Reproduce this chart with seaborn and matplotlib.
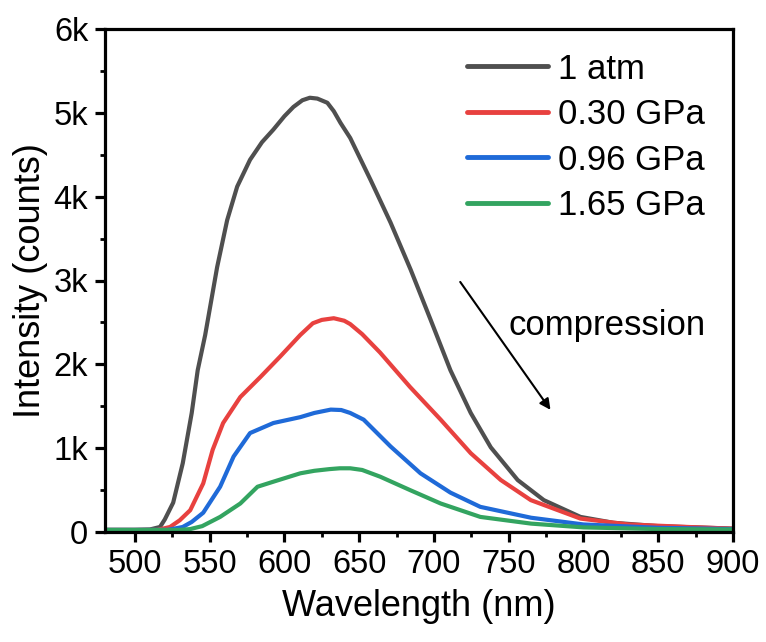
import numpy as np
import pandas as pd
import matplotlib
matplotlib.use("Agg")
import matplotlib.pyplot as plt
from matplotlib.ticker import MultipleLocator, FuncFormatter
import seaborn as sns

# ---- data ----
wl_1atm = [480, 500, 510, 516.8, 520, 525.6, 532, 538, 542, 547, 555, 561.7, 568.4, 577,
           585, 592.6, 600, 606, 612, 617, 622, 628.7, 633, 637.5, 644, 657.6, 671, 684.4,
           697.8, 711, 724.6, 738, 756, 773.5, 798, 820, 850, 900]
int_1atm = [25, 25, 30, 60, 150, 350, 820, 1420, 1930, 2350, 3160, 3720, 4120, 4440,
            4650, 4800, 4960, 5070, 5150, 5180, 5170, 5120, 5020, 4880, 4700, 4200, 3690,
            3130, 2530, 1930, 1420, 1010, 620, 380, 180, 110, 70, 40]

wl_030 = [480, 515, 523.5, 530, 537, 545.7, 552, 559, 570.5, 584, 597, 610.6, 619, 625,
          633, 640, 644, 652, 664, 684, 704.5, 724.6, 744.7, 764.8, 798, 830, 870, 900]
int_030 = [25, 25, 60, 140, 260, 580, 980, 1300, 1610, 1850, 2090, 2350, 2490, 2530,
           2550, 2520, 2480, 2360, 2140, 1730, 1340, 940, 620, 380, 160, 90, 60, 40]

wl_096 = [480, 522, 532, 538, 545.7, 557, 566, 577, 592.6, 610.6, 620, 631, 638, 644, 653,
          671, 691, 711, 731, 765, 800, 850, 900]
int_096 = [25, 25, 60, 120, 230, 540, 900, 1180, 1300, 1370, 1420, 1460, 1455, 1420, 1340,
           1020, 700, 470, 300, 170, 90, 50, 35]

wl_165 = [480, 530, 537, 545, 557, 570.5, 582, 592.6, 610.6, 620, 630, 637, 644, 652, 664,
          684, 704.5, 731, 765, 800, 850, 900]
int_165 = [25, 25, 35, 70, 180, 340, 540, 600, 700, 730, 750, 760, 760, 740, 660,
           500, 340, 180, 100, 55, 35, 30]

labels = ["1 atm", "0.30 GPa", "0.96 GPa", "1.65 GPa"]
colors = ["#4f4f4f", "#e8413f", "#1f6ad8", "#33a460"]

frames = []
for lab, w, i in zip(labels, [wl_1atm, wl_030, wl_096, wl_165],
                     [int_1atm, int_030, int_096, int_165]):
    frames.append(pd.DataFrame({"wl": w, "I": i, "p": lab}))
df = pd.concat(frames, ignore_index=True)

sns.set_style("white")
plt.rcParams["font.family"] = ["Liberation Sans", "DejaVu Sans"]
plt.rcParams["text.color"] = "black"
plt.rcParams["axes.labelcolor"] = "black"
plt.rcParams["xtick.color"] = "black"
plt.rcParams["ytick.color"] = "black"

fig = plt.figure(figsize=(7.66, 6.42), dpi=100)
ax = fig.add_axes([105 / 766, 1 - 532 / 642, 628 / 766, 503 / 642])

sns.lineplot(data=df, x="wl", y="I", hue="p", hue_order=labels,
             palette=dict(zip(labels, colors)), sort=False, estimator=None,
             linewidth=3, ax=ax, solid_joinstyle="round", solid_capstyle="round")

ax.set_xlim(480, 900)
ax.set_ylim(0, 6000)
ax.xaxis.set_major_locator(MultipleLocator(50))
ax.xaxis.set_minor_locator(MultipleLocator(25))
ax.yaxis.set_major_locator(MultipleLocator(1000))
ax.yaxis.set_minor_locator(MultipleLocator(500))
ax.yaxis.set_major_formatter(FuncFormatter(lambda v, p: "0" if v == 0 else f"{int(v/1000)}k"))

for s in ax.spines.values():
    s.set_linewidth(2.3)
    s.set_color("black")
ax.tick_params(axis="both", which="both", bottom=True, left=True, top=False, right=False)
ax.tick_params(axis="both", which="major", direction="out", length=7, width=2.3,
               labelsize=23.5, colors="black", pad=5)
ax.tick_params(axis="both", which="minor", direction="out", length=3.5, width=2,
               colors="black")

ax.set_xlabel("Wavelength (nm)", fontsize=26, labelpad=7)
ax.set_ylabel("Intensity (counts)", fontsize=26, labelpad=4)

leg = ax.legend(loc="upper left", bbox_to_anchor=(0.576, 0.953), frameon=False,
                fontsize=25, handlelength=2.35, handletextpad=0.29, labelspacing=0.36,
                borderaxespad=0, borderpad=0)
for h in leg.get_lines():
    h.set_linewidth(3.5)

ax.annotate("", xy=(779, 1430), xytext=(716.5, 3010),
            arrowprops=dict(arrowstyle="-|>", color="black", lw=1.5, mutation_scale=16))
ax.text(815.7, 2460, "compression", fontsize=25, ha="center", va="center")

fig.savefig("out.png", dpi=100)
